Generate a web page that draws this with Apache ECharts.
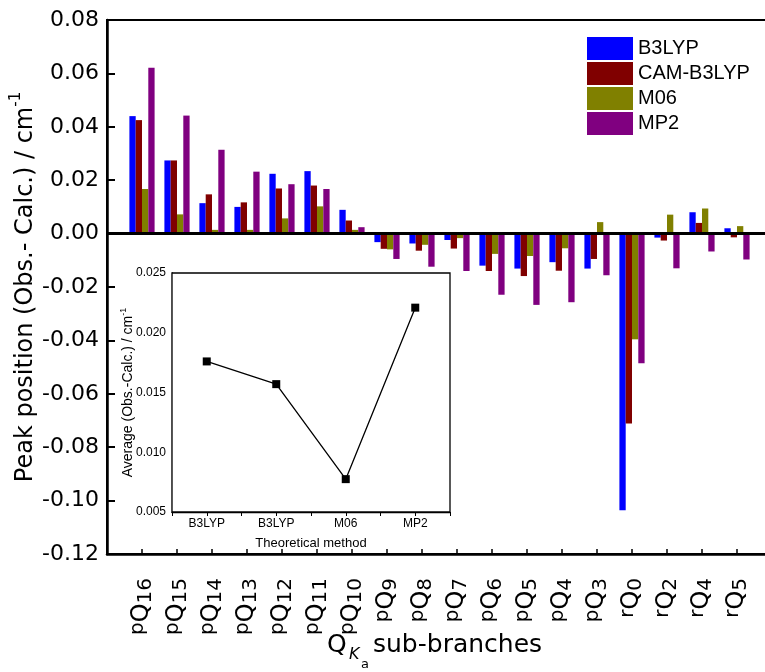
<!DOCTYPE html>
<html>
<head>
<meta charset="utf-8">
<script src="https://cdn.jsdelivr.net/npm/echarts@6/dist/echarts.min.js"></script>
<style>
  html, body { margin: 0; padding: 0; background: #fff; }
  #chart { width: 765px; height: 672px; }
</style>
</head>
<body>
<div id="chart"></div>
<script>
// Q_Ka sub-branches (first letter = ΔKa superscript, digits = Ka subscript)
const branches = ['pQ16', 'pQ15', 'pQ14', 'pQ13', 'pQ12', 'pQ11', 'pQ10', 'pQ9', 'pQ8',
                  'pQ7', 'pQ6', 'pQ5', 'pQ4', 'pQ3', 'rQ0', 'rQ2', 'rQ4', 'rQ5'];

// Obs. - Calc. peak position differences (cm-1)
const b3lyp = [0.0440, 0.0274, 0.0114, 0.0100, 0.0224, 0.0234, 0.0089, -0.0032, -0.0037,
               -0.0024, -0.0120, -0.0131, -0.0107, -0.0131, -0.1036, -0.0015, 0.0080, 0.0020];
const camB3lyp = [0.0425, 0.0274, 0.0147, 0.0117, 0.0169, 0.0180, 0.0049, -0.0057, -0.0064,
                  -0.0056, -0.0140, -0.0159, -0.0139, -0.0095, -0.0711, -0.0026, 0.0040, -0.0014];
const m06 = [0.0167, 0.0072, 0.0014, 0.0014, 0.0057, 0.0102, 0.0014, -0.0059, -0.0042,
             -0.0017, -0.0076, -0.0084, -0.0055, 0.0043, -0.0396, 0.0071, 0.0094, 0.0028];
const mp2 = [0.0621, 0.0442, 0.0314, 0.0232, 0.0185, 0.0167, 0.0024, -0.0095, -0.0124,
             -0.0140, -0.0229, -0.0267, -0.0257, -0.0156, -0.0486, -0.0130, -0.0067, -0.0097];

// Main y axis ticks
const yMin = -0.12, yMax = 0.08, yStep = 0.02;

// Inset: average deviation per theoretical method
const insetMethods = ['B3LYP', 'B3LYP', 'M06', 'MP2'];
const insetAverages = [0.0176, 0.0157, 0.00775, 0.0221];

const FONT = 'Arial, "Liberation Sans", Helvetica, sans-serif';
const WIDE = '"DejaVu Sans", Verdana, sans-serif';

// one empty slot at each end so the groups sit one step in from the frame
const axisCats = [''].concat(branches, ['']);
const pad = arr => [null].concat(arr, [null]);

const seriesDefs = [
  { name: 'B3LYP', data: b3lyp, color: '#0000ff' },
  { name: 'CAM-B3LYP', data: camB3lyp, color: '#800000' },
  { name: 'M06', data: m06, color: '#808000' },
  { name: 'MP2', data: mp2, color: '#800080' }
];

const chart = echarts.init(document.getElementById('chart'), null, { renderer: 'canvas' });

const barSeries = seriesDefs.map((s, i) => {
  const o = {
    name: s.name,
    type: 'bar',
    xAxisIndex: 0,
    yAxisIndex: 0,
    data: pad(s.data),
    barWidth: 6.3,
    barGap: '0%',
    itemStyle: { color: s.color },
    emphasis: { disabled: true },
    z: 2
  };
  if (i === 0) {
    o.markLine = {
      silent: true,
      symbol: 'none',
      label: { show: false },
      lineStyle: { color: '#000', width: 3, type: 'solid' },
      data: [{ yAxis: 0 }],
      z: 5
    };
  }
  return o;
});

// x-axis title pieces: Q with an italic K subscript that carries its own "a" subscript
const titleText = (text, x, y, size, extra) => ({
  type: 'text',
  x: x,
  y: y,
  z: 20,
  style: Object.assign({
    text: text,
    fontFamily: WIDE,
    fontSize: size,
    fill: '#000',
    align: 'left',
    verticalAlign: 'middle'
  }, extra || {})
});

const option = {
  animation: false,
  backgroundColor: '#fff',
  legend: {
    orient: 'vertical',
    left: 587,
    top: 37,
    padding: 0,
    itemWidth: 46,
    itemHeight: 23,
    itemGap: 2,
    icon: 'rect',
    textStyle: { fontFamily: FONT, fontSize: 20, color: '#000' },
    data: seriesDefs.map(s => s.name)
  },
  grid: [
    { left: 107, top: 20, width: 665, height: 534, show: true, outerBoundsMode: 'none',
      containLabel: false, borderColor: '#000', borderWidth: 2, backgroundColor: 'transparent' },
    { left: 172, top: 273, width: 278, height: 239, show: true, outerBoundsMode: 'none',
      containLabel: false, borderColor: '#000', borderWidth: 1.3, backgroundColor: '#fff', z: 10 }
  ],
  xAxis: [
    {
      gridIndex: 0,
      type: 'category',
      data: axisCats,
      boundaryGap: false,
      axisLine: { onZero: false, lineStyle: { color: '#000', width: 2.5 } },
      axisTick: { inside: true, length: 5, interval: 0, lineStyle: { color: '#000', width: 1.5 } },
      axisLabel: {
        interval: 0,
        rotate: 90,
        margin: 24,
        color: '#000',
        formatter: v => v ? '{sup|' + v[0] + '}{m|Q}{sub|' + v.slice(2) + '}' : '',
        rich: {
          m: { fontFamily: WIDE, fontSize: 24, color: '#000', lineHeight: 28 },
          sup: { fontFamily: WIDE, fontSize: 20, color: '#000', lineHeight: 23, verticalAlign: 'top' },
          sub: { fontFamily: WIDE, fontSize: 20, color: '#000', lineHeight: 23, verticalAlign: 'bottom' }
        }
      },
      splitLine: { show: false }
    },
    {
      gridIndex: 1,
      type: 'value',
      min: 0,
      max: 4,
      interval: 0.5,
      axisLine: { lineStyle: { color: '#000', width: 1.3 } },
      axisTick: { inside: false, length: 4, lineStyle: { color: '#000', width: 1 } },
      axisLabel: {
        margin: 6,
        fontFamily: FONT,
        fontSize: 12,
        color: '#000',
        showMinLabel: true,
        showMaxLabel: true,
        formatter: v => (Math.abs(v % 1 - 0.5) < 1e-6) ? insetMethods[Math.floor(v)] : ''
      },
      splitLine: { show: false },
      name: 'Theoretical method',
      nameLocation: 'middle',
      nameGap: 25,
      nameMoveOverlap: false,
      nameTextStyle: { fontFamily: FONT, fontSize: 13, color: '#000' }
    }
  ],
  yAxis: [
    {
      gridIndex: 0,
      type: 'value',
      min: yMin,
      max: yMax,
      interval: yStep,
      axisLine: { show: true, lineStyle: { color: '#000', width: 2.5 } },
      axisTick: { show: true, inside: true, length: 8, lineStyle: { color: '#000', width: 2 } },
      axisLabel: {
        margin: 8,
        fontFamily: WIDE,
        fontSize: 22,
        color: '#000',
        formatter: v => v.toFixed(2)
      },
      splitLine: { show: false },
      name: '{m|Peak position (Obs.- Calc.) / cm}{sup|-1}',
      nameLocation: 'middle',
      nameGap: 64,
      nameMoveOverlap: false,
      nameRotate: 90,
      nameTextStyle: {
        rich: {
          m: { fontFamily: WIDE, fontSize: 24, color: '#000', lineHeight: 34 },
          sup: { fontFamily: WIDE, fontSize: 15, color: '#000', lineHeight: 16, verticalAlign: 'top' }
        }
      }
    },
    {
      gridIndex: 1,
      type: 'value',
      min: 0.005,
      max: 0.025,
      interval: 0.005,
      axisLine: { show: true, lineStyle: { color: '#000', width: 1.3 } },
      axisTick: { show: true, inside: true, length: 4, lineStyle: { color: '#000', width: 1 } },
      minorTick: { show: true, splitNumber: 2, length: 3, lineStyle: { color: '#000', width: 1 } },
      axisLabel: {
        margin: 6,
        fontFamily: FONT,
        fontSize: 12,
        color: '#000',
        formatter: v => v.toFixed(3)
      },
      splitLine: { show: false },
      name: '{m|Average (Obs.-Calc.) / cm}{sup|-1}',
      nameLocation: 'middle',
      nameGap: 35,
      nameMoveOverlap: false,
      nameRotate: 90,
      nameTextStyle: {
        rich: {
          m: { fontFamily: FONT, fontSize: 14, color: '#000', lineHeight: 18 },
          sup: { fontFamily: FONT, fontSize: 9, color: '#000', lineHeight: 8, verticalAlign: 'top' }
        }
      }
    }
  ],
  graphic: [
    titleText('Q', 327, 645, 25),
    titleText('K', 349, 655, 16, { fontStyle: 'italic' }),
    titleText('a', 361, 665, 13),
    titleText('sub-branches', 373, 645, 25)
  ],
  series: barSeries.concat([
    {
      name: 'Average',
      type: 'line',
      xAxisIndex: 1,
      yAxisIndex: 1,
      data: insetAverages.map((v, i) => [i + 0.5, v]),
      symbol: 'rect',
      symbolSize: 8,
      itemStyle: { color: '#000' },
      lineStyle: { color: '#000', width: 1.3 },
      emphasis: { disabled: true },
      z: 12
    }
  ])
};

chart.setOption(option);
</script>
</body>
</html>
